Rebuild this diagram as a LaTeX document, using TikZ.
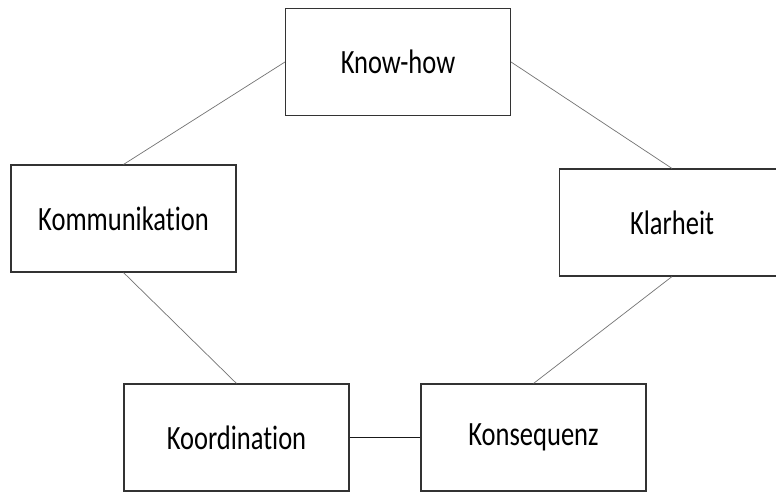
\documentclass[tikz,border=0pt]{standalone}
\usepackage{fontspec}
\setmainfont{Carlito}[Ligatures=NoCommon]
\begin{document}
\begin{tikzpicture}[x=1pt,y=-1pt,
  box/.style={draw=black!80, line width=1.1pt, fill=white, minimum width=225pt, minimum height=107pt, inner sep=0pt, font=\fontsize{34}{40}\selectfont},
  thin link/.style={draw=black!55, line width=0.7pt},
  thick link/.style={draw=black!90, line width=1.3pt}]
\useasboundingbox (0,0) rectangle (776,491);
\fill[white] (0,0) rectangle (776,491);
\node[box] (kh) at (398,62) {\scalebox{0.78}[1]{Know-how}};
\node[box] (komm) at (123.5,218.5) {\scalebox{0.78}[1]{Kommunikation}};
\node[box] (klar) at (672,222.5) {\scalebox{0.78}[1]{Klarheit}};
\node[box] (koord) at (236.5,437.5) {\scalebox{0.78}[1]{Koordination}};
\node[box] (kons) at (533.5,437.5) {\scalebox{0.78}[1]{Konsequenz}};
\draw[thin link] (kh.west) -- (komm.north);
\draw[thin link] (kh.east) -- (klar.north);
\draw[thin link] (komm.south) -- (koord.north);
\draw[thin link] (klar.south) -- (kons.north);
\draw[thick link] (koord.east) -- (kons.west);
\end{tikzpicture}
\end{document}
